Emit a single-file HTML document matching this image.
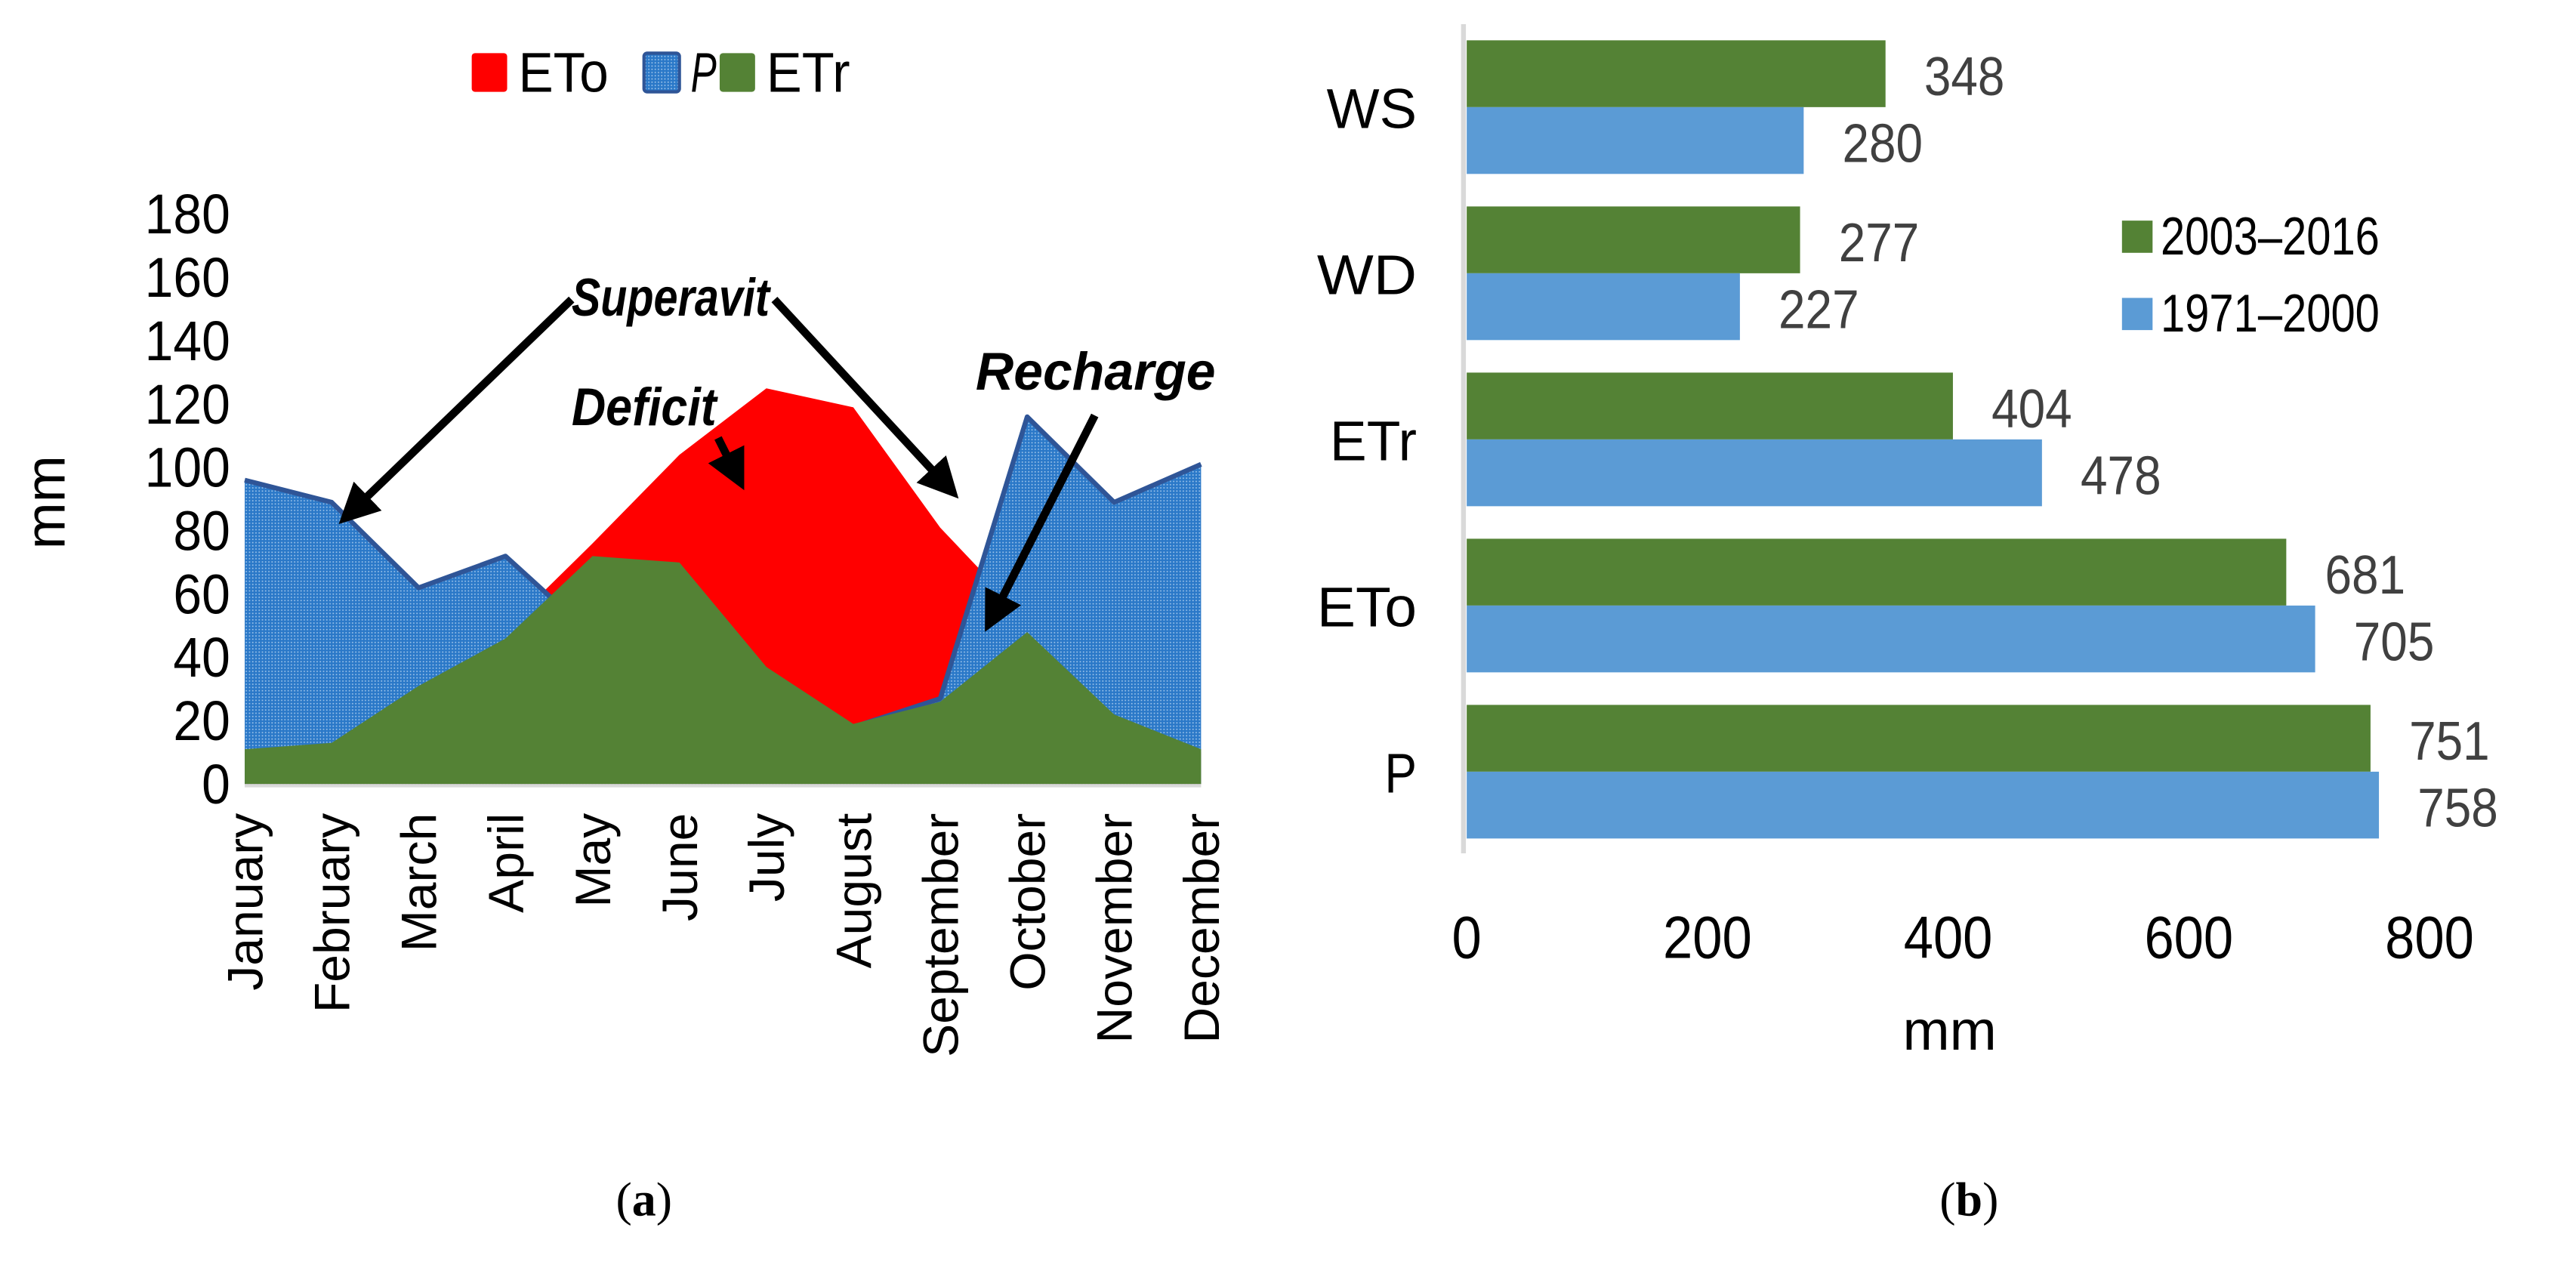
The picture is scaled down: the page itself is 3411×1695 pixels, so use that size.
<!DOCTYPE html>
<html><head><meta charset="utf-8">
<style>
html,body{margin:0;padding:0;background:#fff;}
svg{display:block;font-family:"Liberation Sans",sans-serif;}
</style></head>
<body>
<svg id="fig" width="3411" height="1695" viewBox="0 0 1600 795" xmlns="http://www.w3.org/2000/svg">
<defs>
<pattern id="dots" width="2" height="2" patternUnits="userSpaceOnUse">
<rect x="0" y="0" width="2" height="2" fill="#2a78c8"/>
<rect x="0.6" y="0.6" width="0.8" height="0.8" fill="#9cc3ea"/>
</pattern>
<marker id="ah" markerWidth="5" markerHeight="5" refX="4" refY="2.5" orient="auto" markerUnits="strokeWidth">
<path d="M0,0 L5,2.5 L0,5 z" fill="#000"/>
</marker>
</defs>
<g id="left"></g>
<g id="right"></g>
<text x="400" y="755" font-family="Liberation Serif,serif" font-size="30" text-anchor="middle">(<tspan font-weight="bold">a</tspan>)</text>
<text x="1223" y="755" font-family="Liberation Serif,serif" font-size="30" text-anchor="middle">(<tspan font-weight="bold">b</tspan>)</text>
</svg>
<script>
// ---- Area chart data ----
const months = ["January","February","March","April","May","June","July","August","September","October","November","December"];
const etoVals = [10,12,30,49,76,104,125,119,81,52,22,10];
const pVals = [96,89,62,72,47,40,30,18,27,116,89,101];
const etrVals = [11,13,31,46,72,70,37,19,26,48,22,11];
const yTicks = [0,20,40,60,80,100,120,140,160,180];
// ---- Bar chart data ----
const cats = ["WS","WD","ETr","ETo","P"];
const recent = [348,277,404,681,751];
const older = [280,227,478,705,758];
const xTicks = [0,200,400,600,800];

const NS="http://www.w3.org/2000/svg";
function mk(tag,attrs,parent,txt){const e=document.createElementNS(NS,tag);for(const k in attrs)e.setAttribute(k,attrs[k]);if(txt!==undefined)e.textContent=txt;parent.appendChild(e);return e;}
function fit(el,len){el.setAttribute('textLength',len);el.setAttribute('lengthAdjust','spacingAndGlyphs');}

// Left chart
const L=document.getElementById('left');
const x0=152,x1=746,yb=487,yt=133;
const xs=i=>x0+i*(x1-x0)/(months.length-1);
const ys=v=>yb-(v/180)*(yb-yt);
function area(vals){let d=`M${xs(0)},${yb}`;vals.forEach((v,i)=>d+=` L${xs(i)},${ys(v)}`);d+=` L${xs(vals.length-1)},${yb} Z`;return d;}
function line(vals){return vals.map((v,i)=>(i?'L':'M')+xs(i)+','+ys(v)).join(' ');}
let e;
e=mk('path',{d:area(etoVals),fill:'#ff0000'},L);

e=mk('path',{d:area(pVals),fill:'url(#dots)'},L);

e=mk('path',{d:line(pVals),fill:'none',stroke:'#2f5597','stroke-width':3,'stroke-linejoin':'round'},L);

e=mk('path',{d:area(etrVals),fill:'#548235'},L);

e=mk('line',{x1:x0,y1:yb+1,x2:x1,y2:yb+1,stroke:'#d9d9d9','stroke-width':2},L);

yTicks.forEach(t=>{e=mk('text',{x:143,y:ys(t)+12,'font-size':35,'text-anchor':'end'},L,t);
fit(e,17.7*String(t).length);
});
months.forEach((m,i)=>{e=mk('text',{x:0,y:0,'font-size':31,'text-anchor':'end',transform:`translate(${xs(i)+11},505) rotate(-90)`},L,m);
});
e=mk('text',{x:0,y:0,'font-size':35,'text-anchor':'middle',transform:'translate(40,312) rotate(-90)'},L,'mm');

// legend
const leg=[['#ff0000','ETo',293,false,56],['url(#dots)','P',400,true,16],['#548235','ETr',447,false,52]];
leg.forEach(([c,t,x,it,w])=>{e=mk('rect',{x:x,y:33,width:22,height:24,fill:c,stroke:t==='P'?'#2f5597':'none','stroke-width':2,rx:2},L);

e=mk('text',{x:x+29,y:57,'font-size':35,'font-style':it?'italic':'normal'},L,t);
fit(e,w);
});
// annotations
const ann=[['Superavit',355,196,123],['Deficit',355,264,90],['Recharge',606,242,149]];
ann.forEach(([t,x,y,w])=>{e=mk('text',{x:x,y:y,'font-size':33,'font-weight':'bold','font-style':'italic'},L,t);
fit(e,w);
});
const arrows=[[355,186,214,322],[481,186,592,306],[446,272,460,300],[680,258,614,388]];
arrows.forEach(([a,b,c,d])=>{e=mk('line',{x1:a,y1:b,x2:c,y2:d,stroke:'#000','stroke-width':5,'marker-end':'url(#ah)'},L);
});

// Right chart
const R=document.getElementById('right');
const bx0=911,bx1=1509;
const bxs=v=>bx0+v/800*(bx1-bx0);
const top0=25,pitch=103.2,bh=41.5;
e=mk('line',{x1:909,y1:15,x2:909,y2:530,stroke:'#d9d9d9','stroke-width':3},R);

const catW={WS:56,WD:62,ETr:54,ETo:62,P:20};
cats.forEach((c,i)=>{
  const y=top0+i*pitch;
  e=mk('rect',{x:bx0,y:y,width:bxs(recent[i])-bx0,height:bh,fill:'#548235'},R);
  
  e=mk('rect',{x:bx0,y:y+bh,width:bxs(older[i])-bx0,height:bh,fill:'#5b9bd5'},R);
  
  e=mk('text',{x:bxs(recent[i])+24,y:y+34,'font-size':34,fill:'#404040'},R,recent[i]);
  fit(e,50);
  
  e=mk('text',{x:bxs(older[i])+24,y:y+bh+34,'font-size':34,fill:'#404040'},R,older[i]);
  fit(e,50);
  
  e=mk('text',{x:880-catW[c],y:y+bh+13,'font-size':35},R,c);
  fit(e,catW[c]);
  
});
xTicks.forEach(t=>{e=mk('text',{x:bxs(t)-9.2*String(t).length,y:595,'font-size':37},R,t);
fit(e,18.4*String(t).length);
});
e=mk('text',{x:1211,y:652,'font-size':35,'text-anchor':'middle'},R,'mm');

[['#548235','2003–2016',137],['#5b9bd5','1971–2000',185]].forEach(([c,t,y])=>{
  e=mk('rect',{x:1318,y:y,width:19,height:20,fill:c},R);
  
  e=mk('text',{x:1342,y:y+21,'font-size':33},R,t);
  fit(e,136);
  
});
</script>
</body></html>
